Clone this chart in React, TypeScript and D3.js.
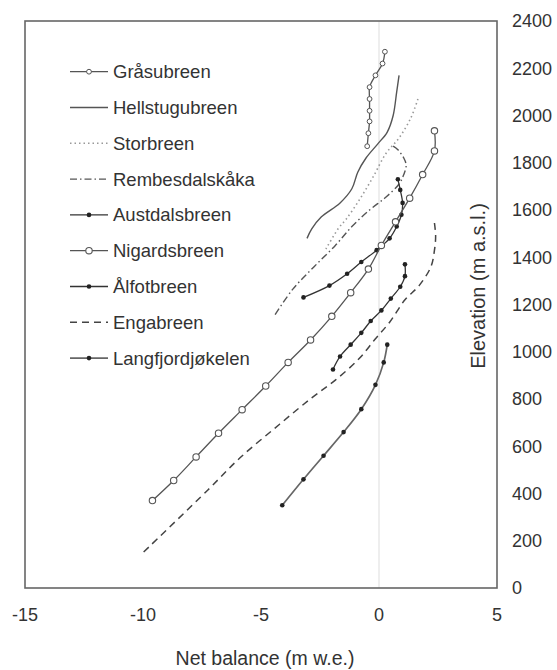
import React from "react";
import * as d3 from "d3";

type P = [number, number];

const xTicks = [-15, -10, -5, 0, 5];
const yTicks = [0, 200, 400, 600, 800, 1000, 1200, 1400, 1600, 1800, 2000, 2200, 2400];

const grasubreen: P[] = [[0.25, 2270], [0.15, 2220], [-0.15, 2170], [-0.4, 2120], [-0.4, 2070], [-0.4, 2020], [-0.4, 1975], [-0.45, 1925], [-0.5, 1870]];
const hellstugubreen: P[] = [[0.85, 2170], [0.75, 2100], [0.6, 2000], [0.35, 1930], [-0.05, 1880], [-0.55, 1820], [-0.9, 1760], [-1.15, 1690], [-1.65, 1630], [-2.45, 1570], [-2.85, 1520], [-3.05, 1480]];
const storbreen: P[] = [[1.65, 2070], [1.35, 1990], [0.85, 1905], [0.3, 1840], [-0.25, 1740], [-0.85, 1640], [-1.4, 1560], [-1.7, 1525], [-2.25, 1435]];
const rembesdalskaka: P[] = [[0.6, 1870], [0.8, 1855], [1.05, 1820], [1.15, 1790], [1.05, 1750], [0.85, 1710], [0.3, 1655], [-0.4, 1600], [-1.15, 1530], [-1.85, 1450], [-2.75, 1360], [-3.65, 1265], [-4.45, 1150]];
const austdalsbreen: P[] = [[0.8, 1730], [0.9, 1685], [1.0, 1630], [0.95, 1580], [0.75, 1530], [0.45, 1480], [-0.1, 1430], [-0.75, 1380], [-1.35, 1330], [-2.1, 1280], [-3.2, 1230]];
const nigardsbreen: P[] = [[2.35, 1935], [2.35, 1850], [1.85, 1750], [1.3, 1650], [0.7, 1550], [0.1, 1450], [-0.45, 1350], [-1.2, 1250], [-2.0, 1150], [-2.9, 1050], [-3.85, 955], [-4.8, 855], [-5.8, 755], [-6.8, 655], [-7.75, 555], [-8.7, 455], [-9.6, 370]];
const alfotbreen: P[] = [[1.1, 1370], [1.1, 1320], [0.9, 1275], [0.5, 1225], [0.1, 1175], [-0.35, 1130], [-0.75, 1080], [-1.2, 1030], [-1.65, 980], [-1.95, 925]];
const engabreen: P[] = [[2.35, 1545], [2.4, 1490], [2.35, 1430], [2.2, 1360], [1.7, 1280], [1.1, 1220], [0.45, 1125], [-0.15, 1055], [-0.85, 970], [-1.85, 880], [-2.85, 805], [-4.25, 690], [-5.9, 550], [-7.25, 415], [-10.1, 140]];
const langfjordjokelen: P[] = [[0.35, 1030], [0.2, 955], [-0.15, 860], [-0.75, 757], [-1.5, 660], [-2.35, 560], [-3.2, 460], [-4.1, 350]];

type Series = {
  name: string;
  data: P[];
  stroke: string;
  width: number;
  dash?: string;
  marker?: "dot" | "open" | "small";
};

const series: Series[] = [
  { name: "Gråsubreen", data: grasubreen, stroke: "#555", width: 1.3, marker: "small" },
  { name: "Hellstugubreen", data: hellstugubreen, stroke: "#555", width: 1.4 },
  { name: "Storbreen", data: storbreen, stroke: "#999", width: 1.6, dash: "1.5,3" },
  { name: "Rembesdalskåka", data: rembesdalskaka, stroke: "#555", width: 1.4, dash: "7,3,1.5,3" },
  { name: "Austdalsbreen", data: austdalsbreen, stroke: "#333", width: 1.3, marker: "dot" },
  { name: "Nigardsbreen", data: nigardsbreen, stroke: "#555", width: 1.3, marker: "open" },
  { name: "Ålfotbreen", data: alfotbreen, stroke: "#333", width: 1.3, marker: "dot" },
  { name: "Engabreen", data: engabreen, stroke: "#444", width: 1.5, dash: "7,5" },
  { name: "Langfjordjøkelen", data: langfjordjokelen, stroke: "#666", width: 1.7, marker: "dot" },
];

const W = 557;
const H = 670;
const L = 25, R = 497, T = 21, B = 588;
const FONT = "'Liberation Sans', Arial, sans-serif";

function Marker({ kind, x, y, color }: { kind: string; x: number; y: number; color: string }) {
  if (kind === "open") return <circle cx={x} cy={y} r={3.2} fill="#fff" stroke={color} strokeWidth={1.1} />;
  if (kind === "small") return <circle cx={x} cy={y} r={2.4} fill="#fff" stroke={color} strokeWidth={1} />;
  return <circle cx={x} cy={y} r={2.3} fill="#222" stroke="none" />;
}

export default function App() {
  const x = d3.scaleLinear().domain([-15, 5]).range([L, R]);
  const y = d3.scaleLinear().domain([0, 2400]).range([B, T]);
  const line = d3
    .line<P>()
    .x((d) => x(d[0]))
    .y((d) => y(d[1]))
    .curve(d3.curveCatmullRom.alpha(0.5));

  return (
    <svg width={W} height={H} style={{ position: "absolute", left: 0, top: 0, background: "#fff" }} fontFamily={FONT}>
      <rect x={0} y={0} width={W} height={H} fill="#fff" />
      <line x1={x(0)} x2={x(0)} y1={T} y2={B} stroke="#ddd" strokeWidth={1} />
      <rect x={L} y={T} width={R - L} height={B - T} fill="none" stroke="#666" strokeWidth={1.6} />

      {series.map((s) => (
        <g key={s.name}>
          <path d={line(s.data) || ""} fill="none" stroke={s.stroke} strokeWidth={s.width} strokeDasharray={s.dash} />
          {s.marker && s.data.map((d, i) => <Marker key={i} kind={s.marker!} x={x(d[0])} y={y(d[1])} color={s.stroke} />)}
        </g>
      ))}

      {series.map((s, i) => {
        const ly = 71.7 + i * 35.8;
        return (
          <g key={"lg" + s.name}>
            <line x1={70} x2={108} y1={ly} y2={ly} stroke={s.stroke} strokeWidth={s.width} strokeDasharray={s.dash} />
            {s.marker && <Marker kind={s.marker} x={89} y={ly} color={s.stroke} />}
            <text x={113} y={ly} dy="0.35em" fontSize={18.5} fill="#333">{s.name}</text>
          </g>
        );
      })}

      {xTicks.map((t) => (
        <text key={"x" + t} x={x(t)} y={621} textAnchor="middle" fontSize={18} fill="#333">{t}</text>
      ))}
      {yTicks.map((t) => (
        <text key={"y" + t} x={512} y={y(t)} dy="0.35em" textAnchor="start" fontSize={18} fill="#333">{t}</text>
      ))}

      <text x={265} y={658} dy="0.35em" textAnchor="middle" fontSize={19.5} fill="#333">Net balance (m w.e.)</text>
      <text transform={`translate(478,286) rotate(-90)`} textAnchor="middle" dy="0.35em" fontSize={20} fill="#333">Elevation (m a.s.l.)</text>
    </svg>
  );
}
